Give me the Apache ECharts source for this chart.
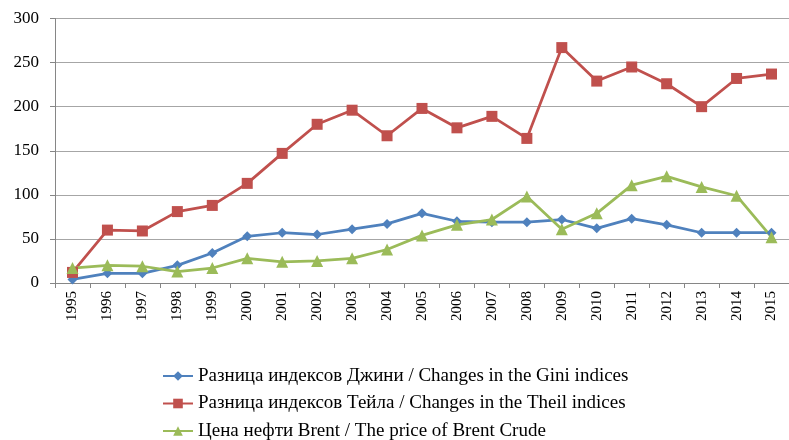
<!DOCTYPE html>
<html><head><meta charset="utf-8">
<script src="https://cdn.jsdelivr.net/npm/echarts@6/dist/echarts.min.js"></script>
<style>html,body{margin:0;padding:0;background:#fff}#c{width:789px;height:440px}</style>
</head><body><div id="c"></div>
<script>
var years = ['1995','1996','1997','1998','1999','2000','2001','2002','2003','2004','2005','2006','2007','2008','2009','2010','2011','2012','2013','2014','2015'];
var giniName = 'Разница индексов Джини / Changes in the Gini indices';
var theilName = 'Разница индексов Тейла / Changes in the Theil indices';
var brentName = 'Цена нефти Brent / The price of Brent Crude';
var gini = [4, 11, 11, 20, 34, 53, 57, 55, 61, 67, 79, 70, 69, 69, 72, 62, 73, 66, 57, 57, 57];
var theil = [12, 60, 59, 81, 88, 113, 147, 180, 196, 167, 198, 176, 189, 164, 267, 229, 245, 226, 200, 232, 237];
var brent = [17, 20, 19, 13, 17, 28, 24, 25, 28, 38, 54, 66, 72, 98, 61, 79, 111, 121, 109, 99, 52];
var yTicks = [0, 50, 100, 150, 200, 250, 300];

var font = 'Liberation Serif';
var chart = echarts.init(document.getElementById('c'), null, {renderer: 'canvas'});
function ser(name, data, color, symbol, size) {
  return {
    name: name, type: 'line', data: data, symbol: symbol, symbolSize: size,
    lineStyle: {color: color, width: 2.75}, itemStyle: {color: color},
    emphasis: {disabled: true}, animation: false
  };
}
chart.setOption({
  animation: false,
  grid: {left: 55, right: 0, top: 18.5, bottom: 157, containLabel: false},
  xAxis: {
    type: 'category', data: years, boundaryGap: true,
    axisLine: {lineStyle: {color: '#868686', width: 1}},
    axisTick: {show: true, length: 5, lineStyle: {color: '#868686'}},
    axisLabel: {rotate: 90, fontFamily: font, fontSize: 15, color: '#000', margin: 8}
  },
  yAxis: {
    type: 'value', min: yTicks[0], max: yTicks[yTicks.length - 1], interval: 50,
    axisLine: {show: true, lineStyle: {color: '#868686', width: 1}},
    axisTick: {show: true, length: 5, lineStyle: {color: '#868686'}},
    splitLine: {lineStyle: {color: '#a6a6a6', width: 1}},
    axisLabel: {fontFamily: font, fontSize: 17, color: '#000', margin: 16}
  },
  legend: {
    orient: 'vertical', left: 162, top: 366.5, height: 80, padding: 0,
    itemGap: 8.5, itemWidth: 30, itemHeight: 12,
    textStyle: {fontFamily: font, fontSize: 19, lineHeight: 19, color: '#000'},
    data: [giniName, theilName, brentName]
  },
  series: [
    ser(giniName, gini, '#4F81BD', 'diamond', 10),
    ser(theilName, theil, '#C0504D', 'rect', 11),
    ser(brentName, brent, '#9BBB59', 'triangle', 12)
  ]
});
</script></body></html>
